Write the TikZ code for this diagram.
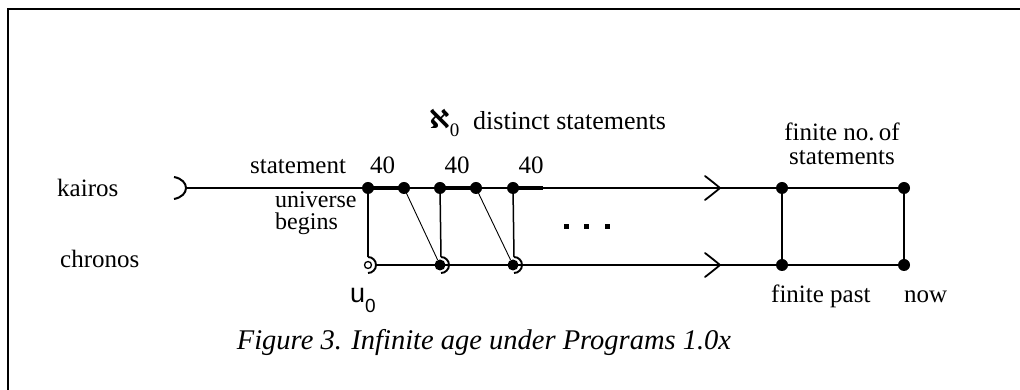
\documentclass[tikz,border=0pt]{standalone}
\usepackage{fontspec}
\setmainfont{Liberation Serif}
\setsansfont{Liberation Sans}
\newfontfamily\djv{DejaVu Sans}
\usetikzlibrary{calc}
\begin{document}
\begin{tikzpicture}[x=1pt,y=1pt,
  lbl/.style={inner sep=0pt,font=\fontsize{25}{27}\selectfont},
  dot/.style={circle,fill=black,inner sep=0pt,minimum size=12pt},
  pt/.style={inner sep=0pt,minimum size=0pt},
  axis/.style={line width=1.5pt},
  boldseg/.style={line width=4pt},
  thin/.style={line width=0.9pt},
  chev/.style={line width=1.8pt,line cap=round},
  sq/.style={fill=black,inner sep=0pt,minimum size=5pt}]
\useasboundingbox (0,0) rectangle (1020,390);
% frame (top and left only)
\draw[line width=2.2pt] (8,0) -- (8,381) -- (1020,381);
% kairos points
\coordinate (ks) at (187,202);
\node[dot] (k1) at (368,202) {};
\node[dot] (k2) at (404,202) {};
\node[dot] (k3) at (440,202) {};
\node[dot] (k4) at (476,202) {};
\node[dot] (k5) at (513,202) {};
\coordinate (kb) at (543,202);
\coordinate (ka) at (720,202);
\node[dot] (k6) at (782,202) {};
\node[dot] (k7) at (904,202) {};
% chronos points
\node[pt] (c1) at (368,125) {};
\node[dot,minimum size=11pt] (c2) at (440,125) {};
\node[dot,minimum size=11pt] (c3) at (513,125) {};
\coordinate (ca) at (720,125);
\node[dot] (c6) at (782,125) {};
\node[dot] (c7) at (904,125) {};
% kairos start bracket
\draw[line width=2pt] (174,213) .. controls (190,210) and (190,194) .. (174,191);
% kairos line
\draw[axis] (ks) -- (k7.center);
\draw[boldseg] (k1.center) -- (k2.center);
\draw[boldseg] (k3.center) -- (k4.center);
\draw[boldseg] (k5.center) -- (kb);
% chronos line
\draw[axis] (375,125) -- (c7.center);
% chronos start: open circle with bracket
\draw[line width=1.3pt] (c1) circle (3.5);
\draw[line width=1.9pt] (368,133) arc (90:-90:8);
\draw[line width=1.9pt] (441,133) arc (90:-90:8);
\draw[line width=1.9pt] (514,133) arc (90:-90:8);
% verticals
\draw[axis] (k1.center) -- (368,133);
\draw[axis] (k3.center) -- (441,133);
\draw[axis] (k5.center) -- (514,133);
\draw[axis] (k6.center) -- (c6.center);
\draw[axis] (k7.center) -- (c7.center);
% diagonals
\draw[thin] (k2.center) -- (c2);
\draw[thin] (k4.center) -- (c3);
% chevrons
\foreach \p in {ka,ca}{
  \draw[chev] ($(\p)+(-15,12)$) .. controls ($(\p)+(-6,5)$) .. (\p)
              .. controls ($(\p)+(-6,-5)$) .. ($(\p)+(-15,-12)$);
}
% ellipsis dots
\node[sq] (d1) at (566,163) {};
\node[sq] (d2) at (586,163) {};
\node[sq] (d3) at (607,163) {};
% labels
\node[lbl,anchor=base west] (lk) at (57,193) {kairos};
\node[lbl,anchor=base west] (lc) at (60,122) {chronos};
\node[lbl,anchor=base west] (ls) at (250,216) {statement};
\node[lbl,anchor=base west] (l40a) at (370,216) {40};
\node[lbl,anchor=base] (l40b) at (457,216) {40};
\node[lbl,anchor=base] (l40c) at (531,216) {40};
\node[lbl,anchor=base west,font=\fontsize{24}{25}\selectfont] (lu) at (275,182) {universe};
\node[lbl,anchor=base west,font=\fontsize{24}{25}\selectfont] (lb) at (275,160) {begins};
\node[lbl,anchor=base west] (la) at (429,261) {{\djv\bfseries\fontsize{26}{28}\selectfont ℵ}\raisebox{-8pt}{\fontsize{19}{19}\selectfont 0}};
\node[lbl,anchor=base west,font=\fontsize{26}{28}\selectfont] (ld) at (473,260) {distinct statements};
\node[lbl,anchor=base] (lf1) at (842,249) {finite no.\,of};
\node[lbl,anchor=base] (lf2) at (842,225) {statements};
\node[lbl,anchor=base west] (lp) at (771,87) {finite past};
\node[lbl,anchor=base west] (ln) at (904,87) {now};
\node[inner sep=0pt,anchor=base west,font=\sffamily\fontsize{27}{29}\selectfont] (lu0) at (350,87) {u\raisebox{-10pt}{\fontsize{19}{20}\selectfont 0}};
\node[inner sep=0pt,anchor=base,font=\itshape\fontsize{28.5}{30}\selectfont] (cap) at (484,40) {Figure 3. Infinite age under Programs 1.0x};
\end{tikzpicture}
\end{document}
